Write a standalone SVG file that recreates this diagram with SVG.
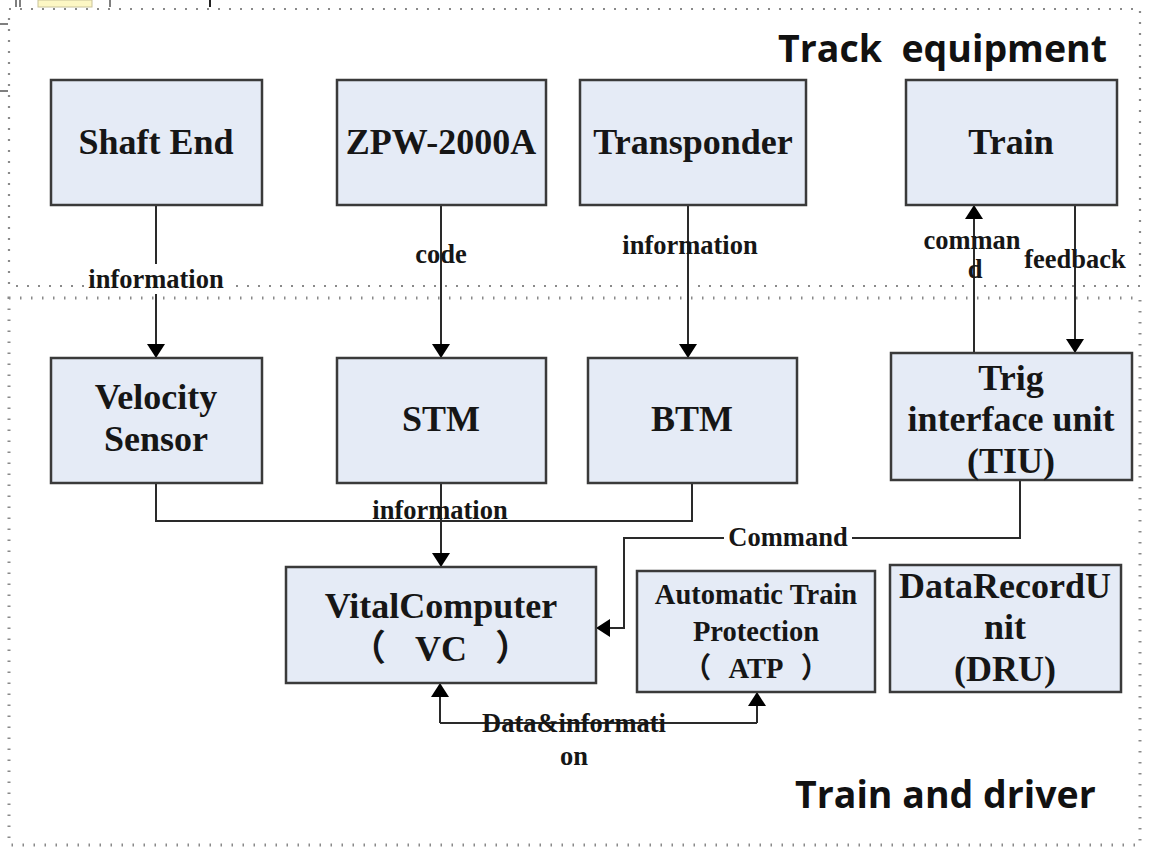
<svg xmlns="http://www.w3.org/2000/svg" width="1153" height="848" viewBox="0 0 1153 848">
  <style>
    .node rect { fill: #e5ebf6; stroke: #3a3a3a; stroke-width: 2.5; }
    .nl { font-family: "Liberation Serif", "Times New Roman", "Noto Sans CJK SC", serif; font-weight: bold; font-size: 36px; fill: #161616; text-anchor: middle; }
    .sl { font-family: "Liberation Serif", "Times New Roman", serif; font-weight: bold; font-size: 26.5px; fill: #161616; text-anchor: middle; }
    .atp { font-size: 28.5px; }
    .title { font-family: "Open Sans", "Noto Sans", sans-serif; font-weight: bold; font-size: 37.5px; fill: #111; }
    .wire { fill: none; stroke: #2a2a2a; stroke-width: 2; }
    .zone1 { fill: none; stroke: #8a8a8a; stroke-width: 2.2; stroke-dasharray: 2 9; }
    .zone2 { fill: none; stroke: #8a8a8a; stroke-width: 3; stroke-dasharray: 1.5 9.5; }
  </style>
  <defs>
    <marker id="arrow" viewBox="0 0 14 18" refX="14" refY="9" markerWidth="14" markerHeight="18" markerUnits="userSpaceOnUse" orient="auto">
      <path d="M0,0 L14,9 L0,18 Z" fill="#000"/>
    </marker>
  </defs>

  <rect width="1153" height="848" fill="#fff"/>

  <!-- edge remnants along the top-left margin -->
  <g id="margin-marks" stroke="#555" stroke-width="1.5">
    <line x1="16" y1="0" x2="16" y2="7"/>
    <line x1="20" y1="0" x2="20" y2="7"/>
    <rect x="38" y="0" width="54" height="7" fill="#fdf7c4" stroke="#c9c39a" stroke-width="1"/>
    <line x1="110" y1="0" x2="110" y2="7"/>
    <line x1="210" y1="0" x2="210" y2="7" stroke="#222" stroke-width="2"/>
    <line x1="0" y1="24" x2="8" y2="24"/>
    <line x1="0" y1="91" x2="8" y2="91"/>
  </g>

  <!-- zones -->
  <g id="zones">
    <rect class="zone1" x="9" y="9" width="1131" height="277"/>
    <rect class="zone2" x="9" y="298" width="1131" height="547"/>
    <text class="title" x="778" y="62">Track&#160; equipment</text>
    <text class="title" x="795" y="808">Train and driver</text>
  </g>

  <!-- connectors -->
  <g id="connectors">
    <!-- Shaft End -> Velocity Sensor -->
    <path class="wire" d="M156,205 V358" marker-end="url(#arrow)"/>
    <!-- ZPW-2000A -> STM -->
    <path class="wire" d="M441,205 V358" marker-end="url(#arrow)"/>
    <!-- Transponder -> BTM -->
    <path class="wire" d="M688,205 V358" marker-end="url(#arrow)"/>
    <!-- TIU -> Train (command) -->
    <path class="wire" d="M974,353 V205" marker-end="url(#arrow)"/>
    <!-- Train -> TIU (feedback) -->
    <path class="wire" d="M1075,205 V353" marker-end="url(#arrow)"/>
    <!-- sensors bus -> VC -->
    <path class="wire" d="M156,483 V521 H692 V483"/>
    <path class="wire" d="M441,483 V567" marker-end="url(#arrow)" stroke-width="2.5"/>
    <!-- TIU -> VC (Command) -->
    <path class="wire" d="M1020,480 V538 H624 V628 H596" marker-end="url(#arrow)"/>
    <!-- VC <-> ATP -->
    <path class="wire" d="M440,723 H757" />
    <path class="wire" d="M440,723 V683" marker-end="url(#arrow)"/>
    <path class="wire" d="M757,723 V692" marker-end="url(#arrow)"/>

    <!-- labels -->
    <rect x="84" y="264" width="144" height="30" fill="#fff"/>
    <text class="sl" x="156" y="288">information</text>
    <text class="sl" x="441" y="263">code</text>
    <text class="sl" x="690" y="254">information</text>
    <text class="sl" x="972" y="249">comman</text>
    <text class="sl" x="975" y="278">d</text>
    <text class="sl" x="1075" y="268">feedback</text>
    <text class="sl" x="440" y="519">information</text>
    <rect x="724" y="525" width="128" height="26" fill="#fff"/>
    <text class="sl" x="788" y="546">Command</text>
    <text class="sl" x="574" y="732">Data&amp;informati</text>
    <text class="sl" x="574" y="765">on</text>
  </g>

  <!-- track-side equipment -->
  <g id="shaft-end" class="node">
    <rect x="51" y="80" width="211" height="125"/>
    <text class="nl" x="156" y="154">Shaft End</text>
  </g>
  <g id="zpw-2000a" class="node">
    <rect x="337" y="80" width="209" height="125"/>
    <text class="nl" x="441" y="154">ZPW-2000A</text>
  </g>
  <g id="transponder" class="node">
    <rect x="580" y="80" width="226" height="125"/>
    <text class="nl" x="693" y="154">Transponder</text>
  </g>
  <g id="train" class="node">
    <rect x="906" y="80" width="211" height="125"/>
    <text class="nl" x="1011" y="154">Train</text>
  </g>

  <!-- on-board units -->
  <g id="velocity-sensor" class="node">
    <rect x="51" y="358" width="211" height="125"/>
    <text class="nl" x="156" y="409">Velocity</text>
    <text class="nl" x="156" y="451">Sensor</text>
  </g>
  <g id="stm" class="node">
    <rect x="337" y="358" width="209" height="125"/>
    <text class="nl" x="441" y="431">STM</text>
  </g>
  <g id="btm" class="node">
    <rect x="588" y="358" width="209" height="125"/>
    <text class="nl" x="692" y="431">BTM</text>
  </g>
  <g id="tiu" class="node">
    <rect x="891" y="353" width="241" height="127"/>
    <text class="nl" x="1011" y="390">Trig</text>
    <text class="nl" x="1011" y="431">interface unit</text>
    <text class="nl" x="1011" y="473">(TIU)</text>
  </g>
  <g id="vital-computer" class="node">
    <rect x="286" y="567" width="310" height="116"/>
    <text class="nl" x="441" y="618">VitalComputer</text>
    <text class="nl" y="661"><tspan x="368">（</tspan><tspan x="441">VC</tspan><tspan x="513">）</tspan></text>
  </g>
  <g id="atp" class="node">
    <rect x="637" y="571" width="238" height="121"/>
    <text class="nl atp" x="756" y="604">Automatic Train</text>
    <text class="nl atp" x="756" y="641">Protection</text>
    <text class="nl atp" y="678"><tspan x="697">（</tspan><tspan x="756">ATP</tspan><tspan x="815">）</tspan></text>
  </g>
  <g id="dru" class="node">
    <rect x="890" y="565" width="231" height="127"/>
    <text class="nl" x="1005" y="598">DataRecordU</text>
    <text class="nl" x="1005" y="639">nit</text>
    <text class="nl" x="1005" y="681">(DRU)</text>
  </g>
</svg>
